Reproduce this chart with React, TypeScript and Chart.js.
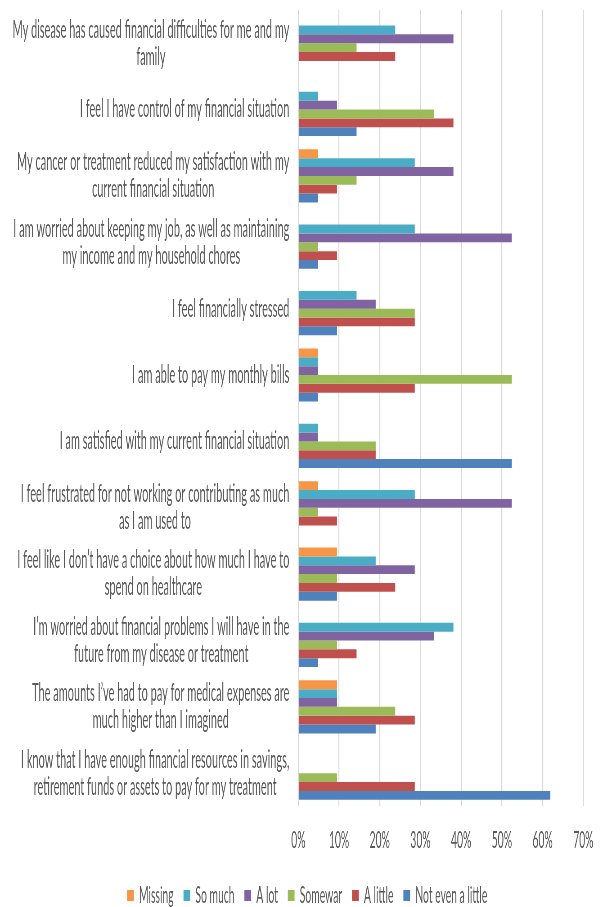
import React, { useEffect, useRef } from 'react';
import { Chart, registerables } from 'chart.js';

Chart.register(...registerables);

// Horizontal squeeze applied to the whole chart (reference text is very condensed)
const SX = 0.45;
const W = 604 / SX;
const H = 907;
const CANVAS_H = 926;
const PAD_LEFT = 69;
const PLOT_LEFT = 663;
const LEGEND_SHIFT = 12;

const categories: string[][] = [
  ['My disease has caused financial difficulties for me and my', 'family'],
  ['I feel I have control of my financial situation'],
  ['My cancer or treatment reduced my satisfaction with my', 'current financial situation'],
  ['I am worried about keeping my job, as well as maintaining', 'my income and my household chores'],
  ['I feel financially stressed'],
  ['I am able to pay my monthly bills'],
  ['I am satisfied with my current financial situation'],
  ['I feel frustrated for not working or contributing as much', 'as I am used to'],
  ['I feel like I don’t have a choice about how much I have to', 'spend on healthcare'],
  ['I’m worried about financial problems I will have in the', 'future from my disease or treatment'],
  ['The amounts I’ve had to pay for medical expenses are', 'much higher than I imagined'],
  ['I know that I have enough financial resources in savings,', 'retirement funds or assets to pay for my treatment'],
];

const seriesNames = ['Missing', 'So much', 'A lot', 'Somewar', 'A little', 'Not even a little'];
const seriesColors = ['#F79646', '#4BACC6', '#8064A2', '#9BBB59', '#C0504D', '#4F81BD'];

const missing = [0, 0, 4.8, 0, 0, 4.8, 0, 4.8, 9.5, 0, 9.5, 0];
const soMuch = [23.8, 4.8, 28.6, 28.6, 14.3, 4.8, 4.8, 28.6, 19.0, 38.1, 9.5, 0];
const aLot = [38.1, 9.5, 38.1, 52.4, 19.0, 4.8, 4.8, 52.4, 28.6, 33.3, 9.5, 0];
const somewar = [14.3, 33.3, 14.3, 4.8, 28.6, 52.4, 19.0, 4.8, 9.5, 9.5, 23.8, 9.5];
const aLittle = [23.8, 38.1, 9.5, 9.5, 28.6, 28.6, 19.0, 9.5, 23.8, 14.3, 28.6, 28.6];
const notEven = [0, 14.3, 4.8, 4.8, 9.5, 4.8, 52.4, 0, 9.5, 4.8, 19.0, 61.9];

const seriesData = [missing, soMuch, aLot, somewar, aLittle, notEven];

const xMin = 0;
const xMax = 70;
const xStep = 10;

const FONT = 'Lato, "Open Sans", sans-serif';
const TEXT = '#595959';
const LABEL_SIZE = 24.4;
const LINE_H = 27;

const labelPlugin = {
  id: 'wrappedCategoryLabels',
  afterLayout(chart: any) {
    if (chart.legend) {
      chart.legend.top -= LEGEND_SHIFT;
      chart.legend.bottom -= LEGEND_SHIFT;
    }
  },
  afterDraw(chart: any) {
    const { ctx, chartArea } = chart;
    const y = chart.scales.y;
    ctx.save();
    ctx.font = `${LABEL_SIZE}px ${FONT}`;
    ctx.fillStyle = TEXT;
    ctx.textAlign = 'center';
    ctx.textBaseline = 'middle';
    const right = chartArea.left - 20;
    categories.forEach((lines, i) => {
      const yc = y.getPixelForTick(i);
      const maxW = Math.max(...lines.map((l) => ctx.measureText(l).width));
      const cx = right - maxW / 2;
      lines.forEach((l, j) => {
        ctx.fillText(l, cx, yc + (j - (lines.length - 1) / 2) * LINE_H);
      });
    });
    ctx.restore();
  },
};

export default function App() {
  const ref = useRef<HTMLCanvasElement | null>(null);

  useEffect(() => {
    if (!ref.current) return;
    const chart = new Chart(ref.current, {
      type: 'bar',
      data: {
        labels: categories.map((c) => c.join(' ')),
        datasets: seriesNames.map((name, i) => ({
          label: name,
          data: seriesData[i],
          backgroundColor: seriesColors[i],
          borderWidth: 0,
          categoryPercentage: 0.8,
          barPercentage: 1,
        })),
      },
      options: {
        indexAxis: 'y',
        animation: false,
        responsive: true,
        maintainAspectRatio: false,
        layout: { padding: { top: 10, right: 46, bottom: -3, left: PAD_LEFT } },
        plugins: {
          legend: {
            position: 'bottom',
            labels: {
              font: { family: FONT, size: 23 },
              color: TEXT,
              boxWidth: 15,
              boxHeight: 11,
              padding: 22,
            },
          },
          tooltip: { enabled: false },
        },
        scales: {
          x: {
            min: xMin,
            max: xMax,
            ticks: {
              stepSize: xStep,
              callback: (v: any) => `${v}%`,
              font: { family: FONT, size: 23 },
              color: TEXT,
              padding: 20,
            },
            grid: { color: '#D9D9D9', lineWidth: 2.2, drawTicks: false },
            border: { display: false },
          },
          y: {
            type: 'category',
            ticks: { display: false },
            grid: { display: false },
            border: { display: false },
            afterFit: (scale: any) => {
              scale.width = PLOT_LEFT - PAD_LEFT;
            },
          },
        },
      },
      plugins: [labelPlugin],
    });
    return () => chart.destroy();
  }, []);

  return (
    <div style={{ position: 'absolute', left: 0, top: 0, width: 604, height: H, overflow: 'hidden', background: '#fff' }}>
      <div style={{ width: W, height: CANVAS_H, transform: `scaleX(${SX})`, transformOrigin: '0 0' }}>
        <canvas ref={ref} style={{ display: 'block' }} />
      </div>
    </div>
  );
}
